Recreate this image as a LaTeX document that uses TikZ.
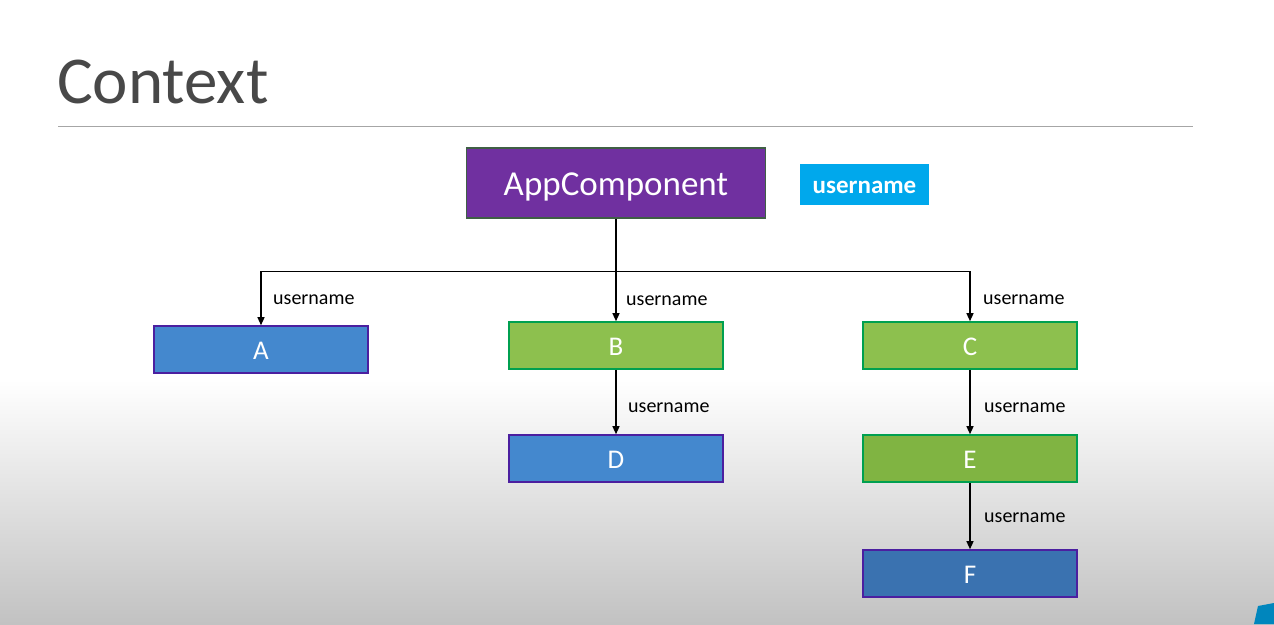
\documentclass[tikz,border=0pt]{standalone}
\usepackage{fontspec}
\setmainfont{Carlito}
\usetikzlibrary{arrows.meta}
\definecolor{titlegray}{HTML}{484848}
\definecolor{rulegray}{HTML}{A6A6A6}
\definecolor{apppurple}{HTML}{7030A0}
\definecolor{appedge}{HTML}{3F5F45}
\definecolor{tagblue}{HTML}{00A8EC}
\definecolor{compblue}{HTML}{4488CE}
\definecolor{darkblue}{HTML}{3A72B0}
\definecolor{bluedge}{HTML}{4B1FA0}
\definecolor{compgreen}{HTML}{8DC04E}
\definecolor{darkgreen}{HTML}{80B442}
\definecolor{greenedge}{HTML}{00A050}
\definecolor{floorgray}{HTML}{C2C2C2}
\tikzset{
  comp/.style={minimum width=214pt, minimum height=47pt, inner sep=0pt,
    line width=1.6pt, text=white, font=\fontsize{27}{30}\selectfont,
    text height=20pt, text depth=0pt},
  bluecomp/.style={comp, fill=compblue, draw=bluedge},
  greencomp/.style={comp, fill=compgreen, draw=greenedge},
  wire/.style={line width=1.3pt, black},
  arr/.style={wire, -{Triangle[length=8pt,width=7pt]}},
  lbl/.style={anchor=base west, inner sep=0pt, font=\fontsize{20}{22}\selectfont}
}
\begin{document}
\begin{tikzpicture}[x=1pt, y=-1pt]
  % page and floor shading
  \useasboundingbox (0,0) rectangle (1274,624);
  \fill[white] (0,0) rectangle (1274,624);
  \shade[top color=white, bottom color=floorgray] (0,380) rectangle (1274,624);
  % corner badge
  \fill[tagblue!80!black] (1258,606) -- (1274,603) -- (1274,624) -- (1254,624) -- cycle;

  % heading and rule
  \node[anchor=base west, inner sep=0pt, text=titlegray,
        font=\fontsize{67}{70}\selectfont] (title) at (57,103) {Context};
  \draw[rulegray, line width=1pt] (58,126.5) -- (1193,126.5);

  % root component and its context value
  \node[fill=apppurple, draw=appedge, line width=1.6pt, text=white,
        minimum width=299pt, minimum height=70pt, inner sep=0pt,
        text height=26pt, text depth=2pt,
        font=\fontsize{35}{38}\selectfont] (app) at (616,183) {AppComponent};
  \node[fill=tagblue, text=white, minimum width=129pt, minimum height=41pt,
        inner sep=0pt, text height=19pt, text depth=2pt,
        font=\bfseries\fontsize{25}{28}\selectfont] (tag) at (864.5,184.5) {username};

  % child components
  \node[bluecomp]  (A) at (261,349.5) {A};
  \node[greencomp] (B) at (616,345.5) {B};
  \node[greencomp] (C) at (970,345.5) {C};
  \node[bluecomp]  (D) at (616,458.5) {D};
  \node[greencomp, fill=darkgreen] (E) at (970,458.5) {E};
  \node[bluecomp, fill=darkblue]   (F) at (970,573.5) {F};

  % connectors
  \coordinate (split) at (616,271.5);
  \draw[wire] (app.south) -- (split);
  \draw[arr] (split) -| (A.north);
  \draw[arr] (split) -- (B.north);
  \draw[arr] (split) -| (C.north);
  \draw[arr] (B) -- (D);
  \draw[arr] (C) -- (E);
  \draw[arr] (E) -- (F);

  % connector labels
  \node[lbl] (la) at (273,304) {username};
  \node[lbl] (lb) at (626,305) {username};
  \node[lbl] (lc) at (983,304) {username};
  \node[lbl] (ld) at (628,412) {username};
  \node[lbl] (le) at (984,412) {username};
  \node[lbl] (lf) at (984,522) {username};
\end{tikzpicture}
\end{document}
